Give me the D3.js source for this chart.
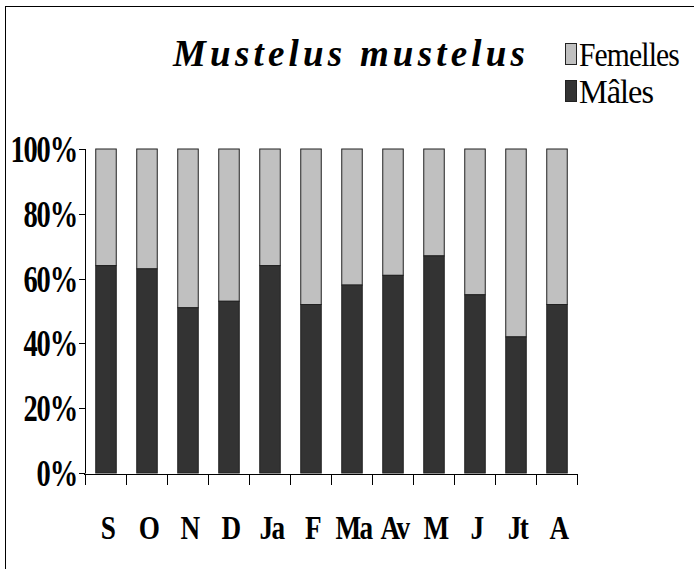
<!DOCTYPE html>
<html><head><meta charset="utf-8">
<script src="https://cdn.jsdelivr.net/npm/d3@7"></script>
<style>html,body{margin:0;padding:0;background:#fff}svg{display:block}</style>
</head><body>
<script>
const months = ["S","O","N","D","Ja","F","Ma","Av","M","J","Jt","A"];
const males = [64,63,51,53,64,52,58,61,67,55,42,52];
const femelles = [36,37,49,47,36,48,42,39,33,45,58,48];
const yTicks = [0,20,40,60,80,100];
const seriesNames = ["Femelles","Mâles"];
const colors = {"Mâles":"#333333","Femelles":"#c0c0c0"};
const FONT = "'Liberation Serif','Times New Roman',Times,serif";

const W=694,H=569;
const svg=d3.select("body").append("svg").attr("width",W).attr("height",H);
svg.append("rect").attr("x",5.5).attr("y",6.5).attr("width",W+20).attr("height",H+20)
  .attr("fill","none").attr("stroke","#000").attr("stroke-width",1);

const x=d3.scaleBand().domain(months).range([85,577]).paddingInner(0.5).paddingOuter(0.25);
const y=d3.scaleLinear().domain([0,100]).range([473,149]);

const data=months.map((m,i)=>({m,male:males[i],fem:femelles[i]}));
const g=svg.append("g");
g.selectAll(".fem").data(data).enter().append("rect")
  .attr("x",d=>x(d.m)+0.5).attr("width",x.bandwidth())
  .attr("y",d=>y(d.male+d.fem)).attr("height",d=>y(d.male)-y(d.male+d.fem))
  .attr("fill",colors["Femelles"]).attr("stroke","#222").attr("stroke-width",1);
g.selectAll(".mal").data(data).enter().append("rect")
  .attr("x",d=>x(d.m)+0.5).attr("width",x.bandwidth())
  .attr("y",d=>y(d.male)).attr("height",d=>y(0)-y(d.male))
  .attr("fill",colors["Mâles"]).attr("stroke","#222").attr("stroke-width",1);

svg.append("line").attr("x1",85.5).attr("x2",85.5).attr("y1",y(100)).attr("y2",y(0)).attr("stroke","#000");
yTicks.forEach(t=>{
  svg.append("line").attr("x1",79).attr("x2",85.5).attr("y1",Math.round(y(t))+0.5).attr("y2",Math.round(y(t))+0.5).attr("stroke","#000");
  svg.append("g").attr("transform",`translate(77,${y(t)+13}) scale(0.77,1)`)
    .append("text").attr("text-anchor","end").attr("font-family",FONT)
    .attr("font-weight","bold").attr("font-size",37).attr("letter-spacing",-1.5).text(t+"%");
});
svg.append("line").attr("x1",84).attr("x2",578).attr("y1",474.5).attr("y2",474.5).attr("stroke","#000");
const off=(x.step()-x.bandwidth())/2;
months.concat(["_end"]).forEach((m,i)=>{
  const bx = i<months.length ? x(m)-off : x(months[months.length-1])+x.bandwidth()+off;
  svg.append("line").attr("x1",Math.round(bx)+0.5).attr("x2",Math.round(bx)+0.5).attr("y1",474).attr("y2",485).attr("stroke","#000");
});
months.forEach(m=>{
  svg.append("g").attr("transform",`translate(${x(m)+x.bandwidth()/2+2},539) scale(0.8,1)`)
    .append("text").attr("text-anchor","middle").attr("font-family",FONT)
    .attr("font-weight","bold").attr("font-size",34).attr("letter-spacing",-2).text(m);
});

svg.append("text").attr("x",173).attr("y",66).attr("textLength",352).attr("lengthAdjust","spacing")
  .attr("font-family",FONT).attr("font-weight","bold").attr("font-style","italic")
  .attr("font-size",37).text("Mustelus mustelus");

const leg=[{name:"Femelles",y:43,b:66,w:100},{name:"Mâles",y:80,b:103,w:74}];
leg.forEach(l=>{
  svg.append("rect").attr("x",565.5).attr("y",l.y+0.5).attr("width",11).attr("height",21)
    .attr("fill",colors[l.name]).attr("stroke","#222");
  const gg=svg.append("g");
  const t=gg.append("text").attr("x",0).attr("y",0)
    .attr("font-family",FONT).attr("font-size",34).attr("letter-spacing",-1).text(l.name);
  const nat=t.node().getComputedTextLength();
  gg.attr("transform",`translate(579,${l.b}) scale(${l.w/nat},1)`);
});
</script>
</body></html>
